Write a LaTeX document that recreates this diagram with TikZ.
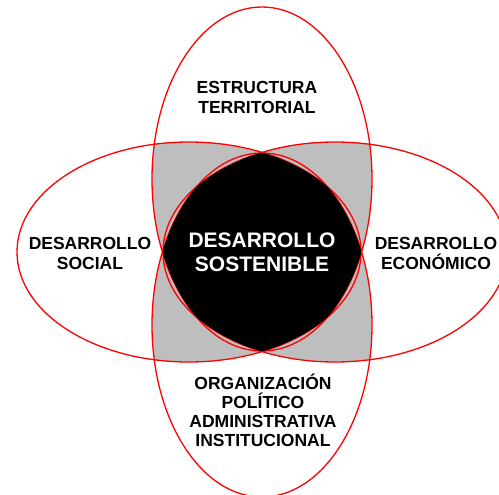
\documentclass[tikz,border=0pt]{standalone}
\usepackage{fontspec}
\setmainfont{Liberation Sans}
\usetikzlibrary{positioning}

\definecolor{overlap}{RGB}{190,190,190}

\begin{document}
\begin{tikzpicture}[x=1pt,y=-1pt,
 ring/.style={draw=red, line width=1.3pt},
 vert/.style={x radius=110, y radius=172},
 horz/.style={x radius=172, y radius=110},
 area node/.style={align=center, font=\bfseries\fontsize{17.5}{20}\selectfont},
 core node/.style={align=center, text=white, font=\bfseries\fontsize{21}{24}\selectfont}]
  \useasboundingbox (0,0) rectangle (499,495);
  \coordinate (top) at (262,179);
  \coordinate (bottom) at (262,325);
  \coordinate (left) at (189,252);
  \coordinate (right) at (335,252);

  % overlaps of two
  \foreach \v in {top, bottom} {
   \foreach \h in {left, right} {
    \begin{scope}
     \clip (\v) ellipse [vert];
     \fill[overlap] (\h) ellipse [horz];
    \end{scope}}}

  \foreach \v in {top, bottom} {\path[ring] (\v) ellipse [vert];}
  \foreach \h in {left, right} {\path[ring] (\h) ellipse [horz];}

  % overlap of all four
  \begin{scope}
   \clip (top) ellipse [vert];
   \clip (bottom) ellipse [vert];
   \clip (left) ellipse [horz];
   \fill[black] (right) ellipse [horz];
  \end{scope}

  \node[core node] (sost) at (262,252.5) {DESARROLLO\\SOSTENIBLE};
  \node[area node] (terr) at (257,97) {ESTRUCTURA\\TERRITORIAL};
  \node[area node] (soc) at (90,253.5) {DESARROLLO\\SOCIAL};
  \node[area node] (eco) at (436,253.5) {DESARROLLO\\ECONÓMICO};
  \node[area node, font=\bfseries\fontsize{17.5}{19}\selectfont] (org) at (263,410)
   {ORGANIZACIÓN\\POLÍTICO\\ADMINISTRATIVA\\INSTITUCIONAL};
 \end{tikzpicture}
\end{document}
